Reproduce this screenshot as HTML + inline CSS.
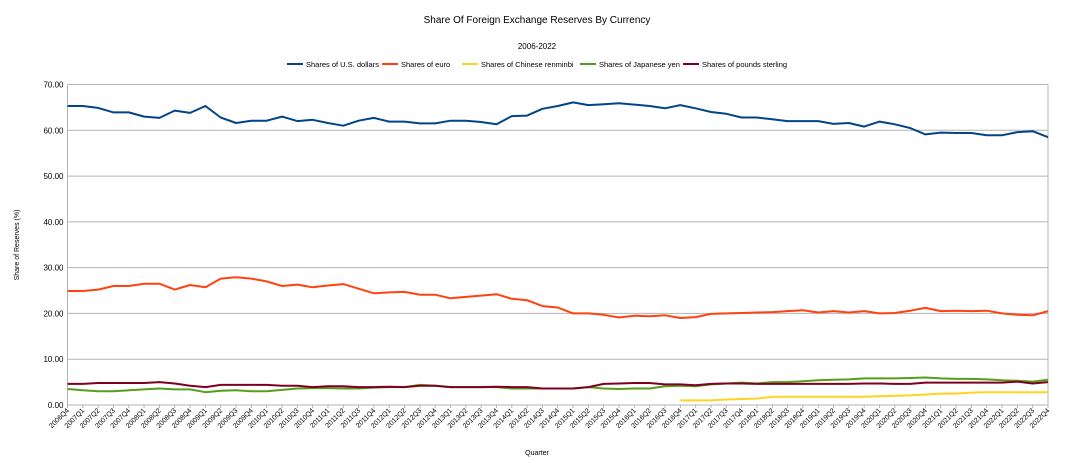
<!DOCTYPE html>
<html><head><meta charset="utf-8"><style>
body{margin:0;background:#fff;font-family:"Liberation Sans",sans-serif}
svg text{font-family:"Liberation Sans",sans-serif;fill:#000}
</style></head><body>
<svg id="c" width="1074" height="466" xmlns="http://www.w3.org/2000/svg">
<text x="537" y="23" font-size="10" text-anchor="middle">Share Of Foreign Exchange Reserves By Currency</text>
<text x="537" y="49" font-size="8" text-anchor="middle">2006-2022</text>
<g id="legend"></g>
<g id="grid"></g>
<g id="yax"></g>
<g id="xax"></g>
<g id="series"></g>
<text transform="translate(19,245) rotate(-90)" font-size="7" text-anchor="middle">Share of Reserves (%)</text>
<text x="537" y="455" font-size="7" text-anchor="middle">Quarter</text>
</svg>
<script>
const yTicks=[0,10,20,30,40,50,60,70];
const usd=[65.3,65.3,64.9,63.9,63.9,63.0,62.7,64.3,63.8,65.3,62.8,61.6,62.1,62.1,63.0,62.0,62.3,61.6,61.0,62.1,62.7,61.9,61.9,61.5,61.5,62.1,62.1,61.8,61.3,63.1,63.2,64.7,65.3,66.1,65.5,65.7,65.9,65.6,65.3,64.8,65.5,64.8,64.0,63.6,62.8,62.8,62.4,62.0,62.0,62.0,61.4,61.6,60.8,61.9,61.3,60.5,59.1,59.5,59.4,59.4,58.9,58.9,59.6,59.8,58.5];
const eur=[24.9,24.9,25.2,26.0,26.0,26.5,26.5,25.2,26.2,25.7,27.6,27.9,27.6,27.0,26.0,26.3,25.7,26.1,26.4,25.4,24.4,24.6,24.7,24.1,24.1,23.3,23.6,23.9,24.2,23.2,22.9,21.6,21.3,20.0,20.0,19.7,19.1,19.5,19.4,19.6,19.0,19.2,19.9,20.0,20.1,20.2,20.3,20.5,20.7,20.2,20.5,20.2,20.5,20.0,20.1,20.6,21.2,20.5,20.6,20.5,20.6,20.0,19.7,19.6,20.5];
const cny=[null,null,null,null,null,null,null,null,null,null,null,null,null,null,null,null,null,null,null,null,null,null,null,null,null,null,null,null,null,null,null,null,null,null,null,null,null,null,null,null,1.0,1.0,1.0,1.2,1.3,1.4,1.8,1.8,1.8,1.8,1.8,1.8,1.8,1.9,2.0,2.1,2.3,2.5,2.5,2.7,2.8,2.8,2.8,2.8,2.8];
const jpy=[3.5,3.2,3.0,3.0,3.2,3.4,3.6,3.4,3.4,2.8,3.1,3.2,3.0,3.0,3.3,3.6,3.7,3.7,3.6,3.6,3.8,3.9,3.9,4.4,4.2,3.9,3.9,3.9,3.9,3.6,3.6,3.6,3.6,3.6,3.9,3.6,3.5,3.6,3.6,4.1,4.2,4.1,4.5,4.7,4.9,4.7,5.0,5.0,5.2,5.4,5.5,5.6,5.8,5.8,5.8,5.9,6.0,5.8,5.7,5.7,5.6,5.4,5.3,5.1,5.5];
const gbp=[4.6,4.6,4.8,4.8,4.8,4.8,5.0,4.7,4.2,3.9,4.4,4.4,4.4,4.4,4.2,4.2,3.9,4.1,4.1,3.9,3.9,4.0,3.9,4.2,4.2,3.9,3.9,3.9,4.0,3.9,3.9,3.6,3.6,3.6,3.9,4.6,4.7,4.8,4.8,4.5,4.5,4.3,4.6,4.7,4.7,4.6,4.6,4.6,4.6,4.6,4.6,4.6,4.7,4.7,4.6,4.6,4.9,4.9,4.9,4.9,4.9,4.9,5.1,4.7,5.0];
const seriesNames=["Shares of U.S. dollars","Shares of euro","Shares of Chinese renminbi","Shares of Japanese yen","Shares of pounds sterling"];
const quarters=[];for(let y=2006;y<=2022;y++)for(let q=1;q<=4;q++){if(y==2006&&q<4)continue;quarters.push(y+"Q"+q);}
const NS="http://www.w3.org/2000/svg";
const L=67.5,R=1048,T=84.5,B=405;
const xS=i=>L+i*(R-L)/(quarters.length-1);
const yS=v=>B-(v/70)*(B-T);
function mk(t,a,p){const e=document.createElementNS(NS,t);for(const k in a)e.setAttribute(k,a[k]);p.appendChild(e);return e;}
const grid=document.getElementById('grid'),yax=document.getElementById('yax'),xax=document.getElementById('xax'),ser=document.getElementById('series'),leg=document.getElementById('legend');
yTicks.forEach(v=>{
 const g=mk('line',{x1:L,x2:R,y1:yS(v),y2:yS(v),stroke:'#b3b3b3','stroke-width':1},grid);
 
 
 const t=mk('text',{x:L-4,y:yS(v)+3,'font-size':8,'text-anchor':'end'},yax);t.textContent=v.toFixed(2);
 
 
});
mk('line',{x1:L,x2:L,y1:T,y2:B,stroke:'#b3b3b3'},yax);
mk('line',{x1:R,x2:R,y1:T,y2:B,stroke:'#b3b3b3'},yax);
quarters.forEach((q,i)=>{
 const x=xS(i);
 mk('line',{x1:x,x2:x,y1:B,y2:B+3,stroke:'#b3b3b3'},xax);
 const t=mk('text',{transform:`translate(${x+2},${B+6}) rotate(-45)`,'font-size':7,'text-anchor':'end'},xax);t.textContent=q;
 
 
});
const data=[usd,eur,cny,jpy,gbp],cols=['#004586','#ff420e','#ffd320','#579d1c','#7e0021'],ids=['usd','eur','cny','jpy','gbp'];
data.forEach((d,k)=>{
 let p='',start=true;
 d.forEach((v,i)=>{if(v==null){start=true;return;}p+=(start?'M':'L')+xS(i).toFixed(1)+','+yS(v).toFixed(1);start=false;});
 const e=mk('path',{d:p,fill:'none',stroke:cols[k],'stroke-width':2,'stroke-linejoin':'round'},ser);
 
 
});
const lx=[287,382,462,580,683];
seriesNames.forEach((n,k)=>{
 const g=mk('g',{},leg);
 
 
 mk('line',{x1:lx[k],x2:lx[k]+16,y1:64,y2:64,stroke:cols[k],'stroke-width':2},g);
 const t=mk('text',{x:lx[k]+19,y:67,'font-size':7.5},g);t.textContent=n;
});
</script>
</body></html>
